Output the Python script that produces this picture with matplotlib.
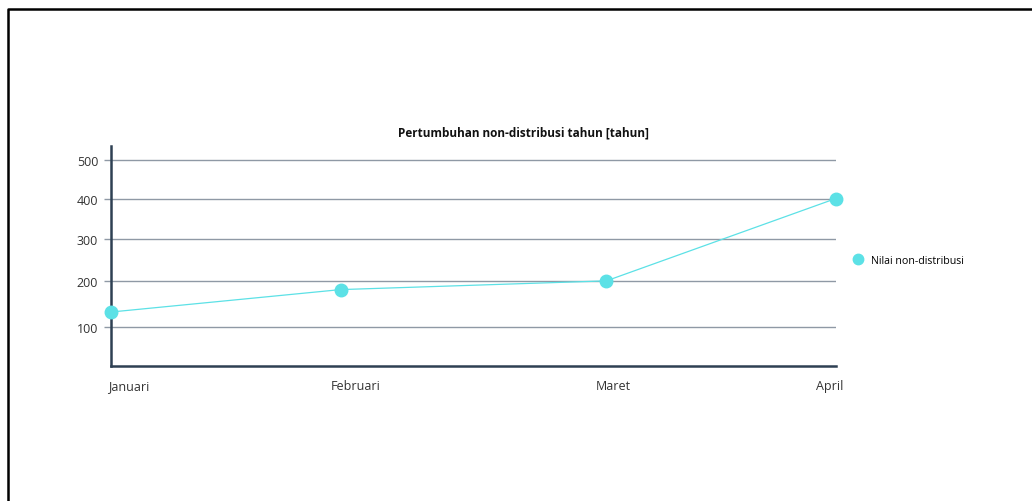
import numpy as np
import matplotlib
matplotlib.use("Agg")
import matplotlib.pyplot as plt
from matplotlib.lines import Line2D
from matplotlib.transforms import ScaledTranslation

# ===============================
# Data
# ===============================

months = ["Januari", "Februari", "Maret", "April"]
month_pos = [0, 1, 2.157, 3.154]   # spacing on the time axis
values = [131, 181, 201, 400]
y_ticks = [100, 200, 300, 400, 500]
series_name = "Nilai non-distribusi"
title = "Pertumbuhan non-distribusi tahun [tahun]"

LINE_COLOR = "#5ce1e6"
AXIS_COLOR = "#2e4053"
GRID_COLOR = "#8f99a5"

plt.rcParams["font.family"] = ["Open Sans", "DejaVu Sans"]

# ===============================
# Figure
# ===============================

fig = plt.figure(figsize=(10.32, 5.02), dpi=100)
W, H = 1032, 502
ax = fig.add_axes([110.7 / W, 1 - 367.3 / H, (835.5 - 110.7) / W, (367.3 - 146.7) / H])

# slightly compressed value scale
p = 0.87
ax.set_yscale("function", functions=(lambda v: np.sign(v) * np.abs(v) ** p,
                                     lambda v: np.sign(v) * np.abs(v) ** (1 / p)))

ax.plot(month_pos, values, color=LINE_COLOR, lw=0.9, marker="o", ms=9,
        mec=LINE_COLOR, mfc=LINE_COLOR, clip_on=False, zorder=3)

ax.set_xlim(month_pos[0], month_pos[-1])
ax.set_ylim(22.4, 536)
ax.set_yticks(y_ticks)
ax.set_yticklabels([str(t) for t in y_ticks], fontsize=9, color="#333333")
ax.yaxis.set_minor_locator(matplotlib.ticker.NullLocator())
ax.tick_params(axis="y", length=5, width=1, color=GRID_COLOR, pad=4)

ax.set_xticks(month_pos)
ax.set_xticklabels(months, fontsize=9, color="#333333")
ax.tick_params(axis="x", length=0, pad=9)

# label alignment / small nudges (pixels)
aligns = ["left", "center", "center", "right"]
nudges = [-3, 15, 7, 8]
for lab, ha, dx in zip(ax.get_xticklabels(), aligns, nudges):
    lab.set_horizontalalignment(ha)
    lab.set_transform(lab.get_transform() + ScaledTranslation(dx / 100, 0, fig.dpi_scale_trans))

ax.grid(axis="y", color=GRID_COLOR, lw=1.0)
ax.grid(axis="x", visible=False)
ax.set_axisbelow(True)

for s in ["top", "right"]:
    ax.spines[s].set_visible(False)
for s in ["left", "bottom"]:
    ax.spines[s].set_color(AXIS_COLOR)
    ax.spines[s].set_linewidth(1.8)

fig.text(523 / W, 1 - 133 / H, title, ha="center", va="center",
         fontsize=8.5, fontweight="bold", color="#111111")

handle = Line2D([], [], ls="", marker="o", ms=7.5, color=LINE_COLOR)
fig.legend([handle], [series_name], loc="center left",
           bbox_to_anchor=(846 / W, 1 - 261 / H), frameon=False,
           fontsize=7.7, handletextpad=0.6, borderpad=0, handlelength=1.2)

# frame around the figure (left and top edges only visible)
fig.add_artist(Line2D([7.5 / W, 7.5 / W, 1], [0, 1 - 10 / H, 1 - 10 / H],
                      transform=fig.transFigure, color="black", lw=1.8))

fig.savefig("out.png", dpi=100, facecolor="white")
